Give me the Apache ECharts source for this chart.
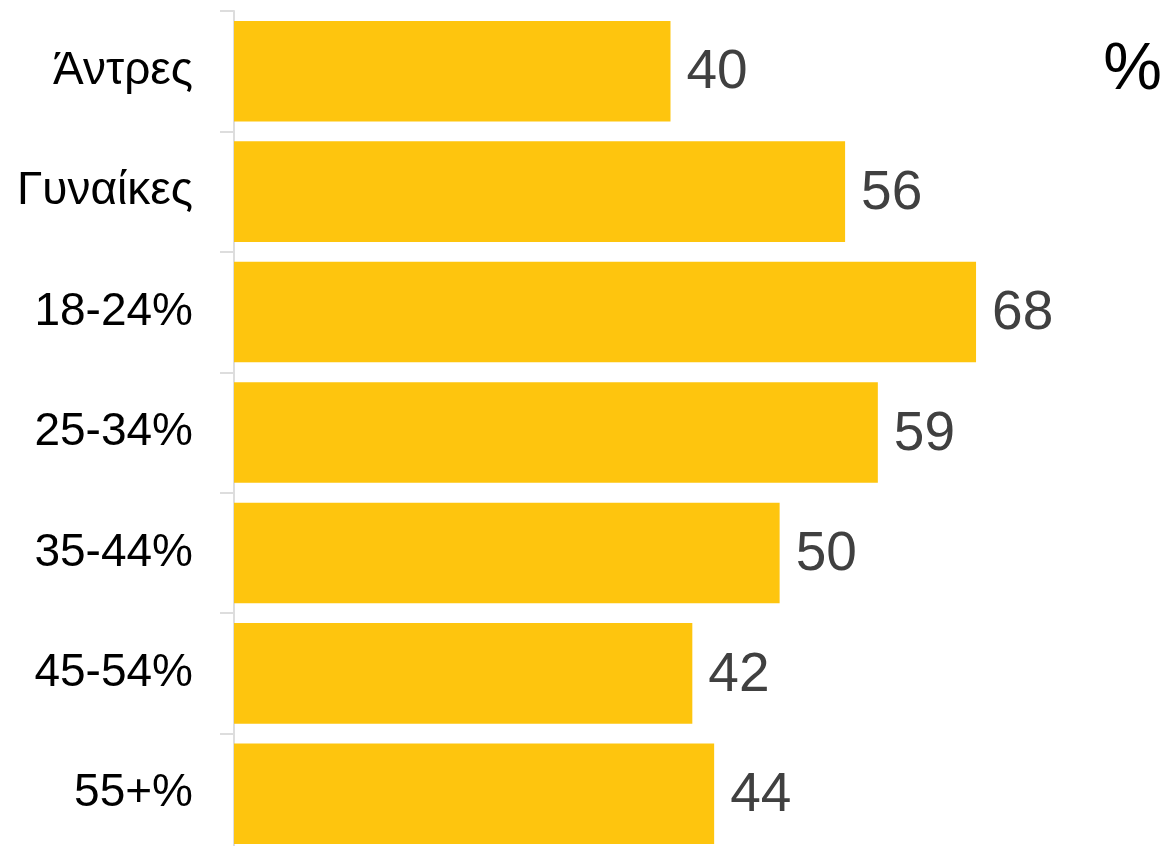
<!DOCTYPE html>
<html>
<head>
<meta charset="utf-8">
<script src="https://cdn.jsdelivr.net/npm/echarts@6/dist/echarts.min.js"></script>
<style>html,body{margin:0;padding:0;background:#fff;}#c{width:1168px;height:846px;}</style>
</head>
<body>
<div id="c"></div>
<script>
const categories = ['Άντρες', 'Γυναίκες', '18-24%', '25-34%', '35-44%', '45-54%', '55+%'];
const values = [40, 56, 68, 59, 50, 42, 44];
const unitLabel = '%';

const chart = echarts.init(document.getElementById('c'), null, {renderer: 'canvas'});
chart.setOption({
  animation: false,
  grid: {left: 234, top: 11, right: 61, bottom: -8, containLabel: false, outerBoundsMode: 'none'},
  xAxis: {type: 'value', min: 0, max: 80, show: false},
  yAxis: {
    type: 'category', data: categories, inverse: true,
    axisLine: {show: true, lineStyle: {color: '#dddddd', width: 2}},
    axisTick: {show: true, length: 14, lineStyle: {color: '#dddddd', width: 2}},
    axisLabel: {margin: 41, color: '#000', fontSize: 46, fontFamily: 'Liberation Sans'}
  },
  series: [{
    type: 'bar', data: values, barCategoryGap: '16.5%',
    itemStyle: {color: '#FEC50E'},
    label: {show: true, position: 'right', distance: 16, color: '#404040', fontSize: 55, fontFamily: 'Liberation Sans', offset: [0, 2]}
  }],
  graphic: [{type: 'text', right: 6, top: 38, style: {text: unitLabel, fontSize: 66, fill: '#000', fontFamily: 'Liberation Sans'}}]
});
</script>
</body>
</html>
